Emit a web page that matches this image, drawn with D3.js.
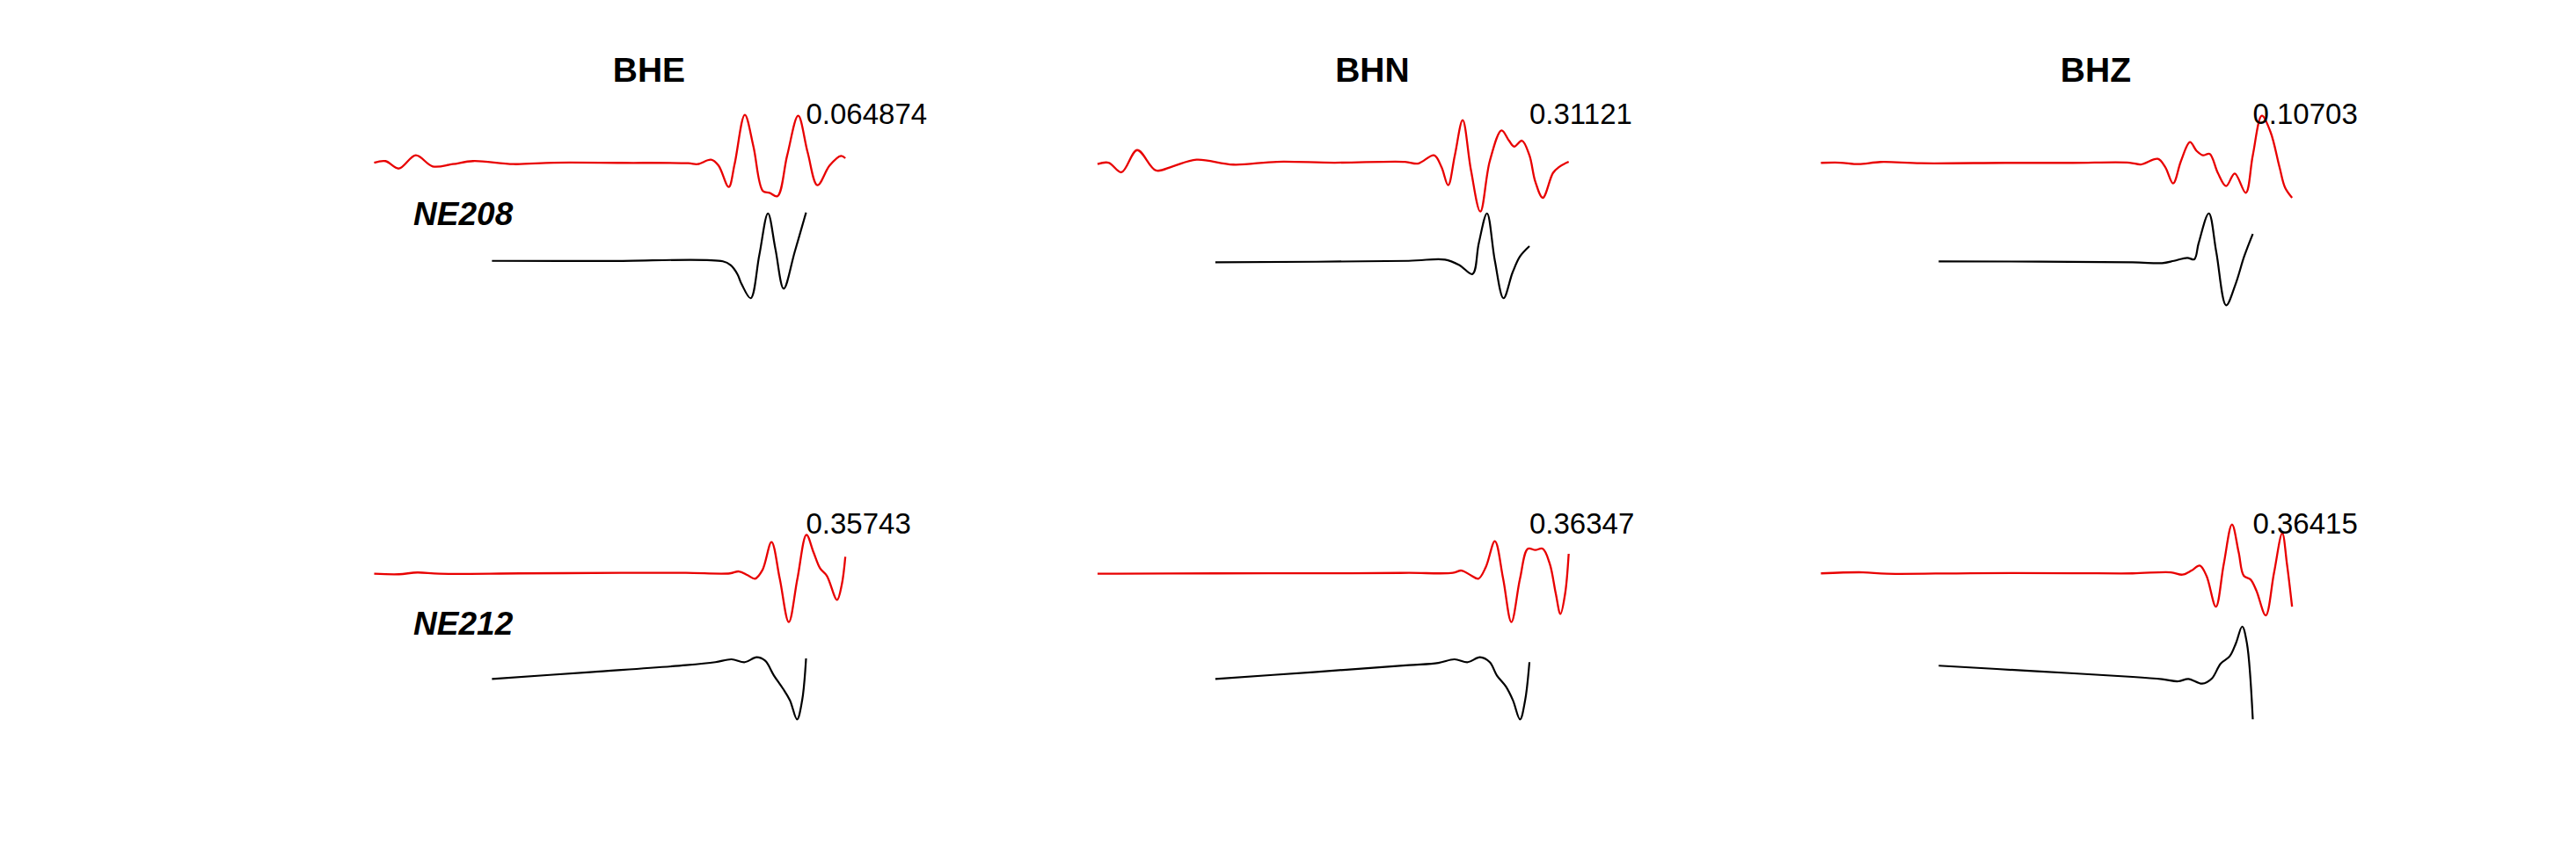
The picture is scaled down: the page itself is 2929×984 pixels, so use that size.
<!DOCTYPE html>
<html><head><meta charset="utf-8">
<script src="https://cdn.jsdelivr.net/npm/d3@7"></script>
<style>html,body{margin:0;padding:0;background:#fff;} svg{display:block}</style>
</head><body>
<svg id="chart" width="2929" height="984"></svg>
<script>
// ---- data ----
const components = ["BHE", "BHN", "BHZ"];
const stations = ["NE208", "NE212"];
const ccLabels = [["0.064874", "0.31121", "0.10703"], ["0.35743", "0.36347", "0.36415"]];
const obsWindow = [0, 120];   // observed (red) time window, s
const synWindow = [30, 110];  // synthetic (black) time window, s

// observed (red) traces: [time s, normalized amplitude]
const obs_NE208_BHE = [[0,0.006],[2.9,0.022],[6.3,-0.054],[10.6,0.081],[14.9,-0.032],[20,-0.009],[25.2,0.022],[35.5,-0.009],[45.7,0.006],[62.9,0.004],[80,0],[82.4,-0.009],[85.8,0.036],[87.7,-0.023],[90.3,-0.242],[91.8,-0.009],[94.4,0.493],[96.6,0.17],[99,-0.283],[100.7,-0.301],[102.7,-0.337],[105.2,0.081],[108,0.484],[110.4,0.111],[112.9,-0.224],[116,-0.023],[118.9,0.075],[120,0.051]];
const obs_NE208_BHN = [[0,-0.009],[2.8,0.006],[6.1,-0.092],[10.1,0.134],[14.9,-0.074],[19.1,-0.032],[25.2,0.036],[34.6,-0.014],[45.7,0.015],[60.3,0.006],[78.3,0.015],[81.6,-0.003],[85.7,0.081],[87.6,-0.039],[89.3,-0.224],[91,0.081],[93,0.439],[95.1,-0.068],[97.5,-0.493],[99.9,0.022],[102.9,0.335],[104.8,0.23],[106.1,0.17],[108.1,0.23],[110,0.081],[111.5,-0.188],[113.4,-0.352],[116,-0.099],[117.5,-0.039],[120,0.015]];
const obs_NE208_BHZ = [[0,0.004],[4.9,0.006],[9.6,-0.009],[15.2,0.013],[25.5,0],[46.9,0.004],[64.1,0.004],[78.6,0.006],[81.5,-0.012],[85.8,0.045],[87.7,-0.039],[89.7,-0.206],[91.7,0.022],[94,0.215],[95.7,0.125],[97.3,0.081],[99,0.096],[101.1,-0.099],[103.2,-0.233],[105.4,-0.104],[108.2,-0.301],[110,0.081],[112.3,0.484],[114.5,0.32],[116.8,-0.039],[118.2,-0.247],[120,-0.352]];
const obs_NE212_BHE = [[0,-0.009],[6.3,-0.014],[11,0.004],[16.6,-0.009],[37.2,-0.005],[62.9,0],[79.4,0],[90.6,-0.005],[92.9,0.015],[95.1,-0.023],[97,-0.059],[98.9,0.03],[101.2,0.314],[103.3,-0.059],[105.6,-0.502],[107.8,-0.059],[110.1,0.389],[111.9,0.21],[113.6,0.045],[115.3,-0.03],[117.9,-0.275],[119.1,-0.119],[120,0.165]];
const obs_NE212_BHN = [[0,-0.009],[30.2,-0.005],[64.5,-0.003],[79.3,0],[90.5,0],[92.7,0.024],[95,-0.023],[97,-0.059],[98.9,0.06],[101.2,0.323],[103.3,-0.059],[105.4,-0.502],[107.6,-0.059],[109.6,0.246],[111.5,0.233],[113.4,0.246],[115.2,0.09],[116.7,-0.209],[117.9,-0.418],[119.1,-0.209],[120,0.194]];
const obs_NE212_BHZ = [[0,-0.005],[10.7,0.006],[16.7,-0.009],[38.2,-0.003],[63.9,-0.003],[79.4,-0.005],[89.1,0.006],[92.1,-0.018],[94.4,0.024],[96.5,0.075],[98.2,-0.03],[100.6,-0.344],[102.6,0.09],[104.7,0.493],[106.4,0.21],[107.7,-0.03],[109.4,-0.066],[110.9,-0.179],[113.3,-0.433],[115.4,0],[117.5,0.403],[118.7,0.09],[120,-0.344]];

// synthetic (black) traces
const syn_NE208_BHE = [[30,0.005],[60,0.003],[88.8,0],[90.8,-0.039],[92.5,-0.129],[93.6,-0.233],[95.9,-0.376],[98.1,0.065],[100.3,0.489],[102.2,0.125],[104.3,-0.278],[107.1,0.095],[110,0.498]];
const syn_NE208_BHN = [[30,-0.009],[79.2,0.005],[88.5,0.018],[92.2,-0.039],[95.5,-0.129],[97.1,0.185],[99.2,0.489],[101.2,0.005],[103.4,-0.376],[105.7,-0.114],[107.6,0.05],[110,0.155]];
const syn_NE208_BHZ = [[30,0],[79.4,-0.009],[86.9,-0.018],[89.9,0.005],[93.3,0.036],[95.1,0.021],[96.2,0.185],[98.8,0.489],[100.7,0.095],[103.2,-0.448],[105.6,-0.233],[107.8,0.05],[110,0.28]];
const syn_NE212_BHE = [[30,-0.081],[55,-0.011],[79.4,0.059],[86.9,0.09],[91,0.119],[94.4,0.09],[97.4,0.14],[99.6,0.104],[101.8,-0.045],[104.1,-0.179],[105.9,-0.299],[107.7,-0.493],[109,-0.3],[110,0.128]];
const syn_NE212_BHN = [[30,-0.081],[55,-0.011],[79.3,0.059],[86.8,0.083],[90.9,0.119],[94.3,0.09],[97.4,0.14],[99.9,0.09],[101.7,-0.045],[104,-0.158],[105.8,-0.299],[107.6,-0.493],[108.9,-0.3],[110,0.09]];
const syn_NE212_BHZ = [[30,0.054],[55,-0.003],[79.4,-0.06],[86.9,-0.084],[91,-0.105],[93.6,-0.081],[97.1,-0.129],[99.6,-0.075],[101.8,0.075],[104.1,0.149],[105.7,0.283],[107.3,0.453],[108.5,0.283],[110,-0.493]];

const obsTraces = [[obs_NE208_BHE, obs_NE208_BHN, obs_NE208_BHZ], [obs_NE212_BHE, obs_NE212_BHN, obs_NE212_BHZ]];
const synTraces = [[syn_NE208_BHE, syn_NE208_BHN, syn_NE208_BHZ], [syn_NE212_BHE, syn_NE212_BHN, syn_NE212_BHZ]];

// ---- layout ----
const W = 2929, H = 984;
const FONT = "'Liberation Sans', Arial, Helvetica, sans-serif";
const svg = d3.select("#chart");
svg.append("rect").attr("width", W).attr("height", H).attr("fill", "#fff");

const axLeft0 = 380.8, axW = 625, colStep = 822.5;
const rowStep = 466, synBase0 = 297.3, obsBase0 = 185.7;

stations.forEach((st, r) => {
  const y = d3.scaleLinear().domain([0, 1]).range([synBase0 + r * rowStep, obsBase0 + r * rowStep]);
  components.forEach((comp, c) => {
    const x = d3.scaleLinear().domain([-10, 130]).range([axLeft0 + c * colStep, axLeft0 + c * colStep + axW]);
    const g = svg.append("g");
    const lineObs = d3.line().x(d => x(d[0])).y(d => y(1 + d[1])).curve(d3.curveCatmullRom.alpha(0.5));
    const lineSyn = d3.line().x(d => x(d[0])).y(d => y(0 + d[1])).curve(d3.curveCatmullRom.alpha(0.5));
    g.append("path").datum(obsTraces[r][c]).attr("d", lineObs)
      .attr("fill", "none").attr("stroke", "#e80000").attr("stroke-width", 2.3)
      .attr("stroke-linejoin", "round");
    g.append("path").datum(synTraces[r][c]).attr("d", lineSyn)
      .attr("fill", "none").attr("stroke", "#000").attr("stroke-width", 2.2)
      .attr("stroke-linejoin", "round");
    g.append("text").attr("x", x(synWindow[1])).attr("y", y(1.5)).attr("dy", "0.35em")
      .attr("font-family", FONT).attr("font-size", 33).attr("fill", "#000")
      .text(ccLabels[r][c]);
    if (r === 0) {
      g.append("text").attr("x", x((synWindow[0] + synWindow[1]) / 2)).attr("y", y(1.833))
        .attr("text-anchor", "middle").attr("font-family", FONT).attr("font-size", 39)
        .attr("font-weight", "bold").attr("fill", "#000").text(comp);
    }
    if (c === 0) {
      g.append("text").attr("x", x(10)).attr("y", y(0.5)).attr("dy", "0.4em")
        .attr("font-family", FONT).attr("font-size", 37).attr("font-weight", "bold")
        .attr("font-style", "italic").attr("fill", "#000").text(st);
    }
  });
});
</script>
</body></html>
